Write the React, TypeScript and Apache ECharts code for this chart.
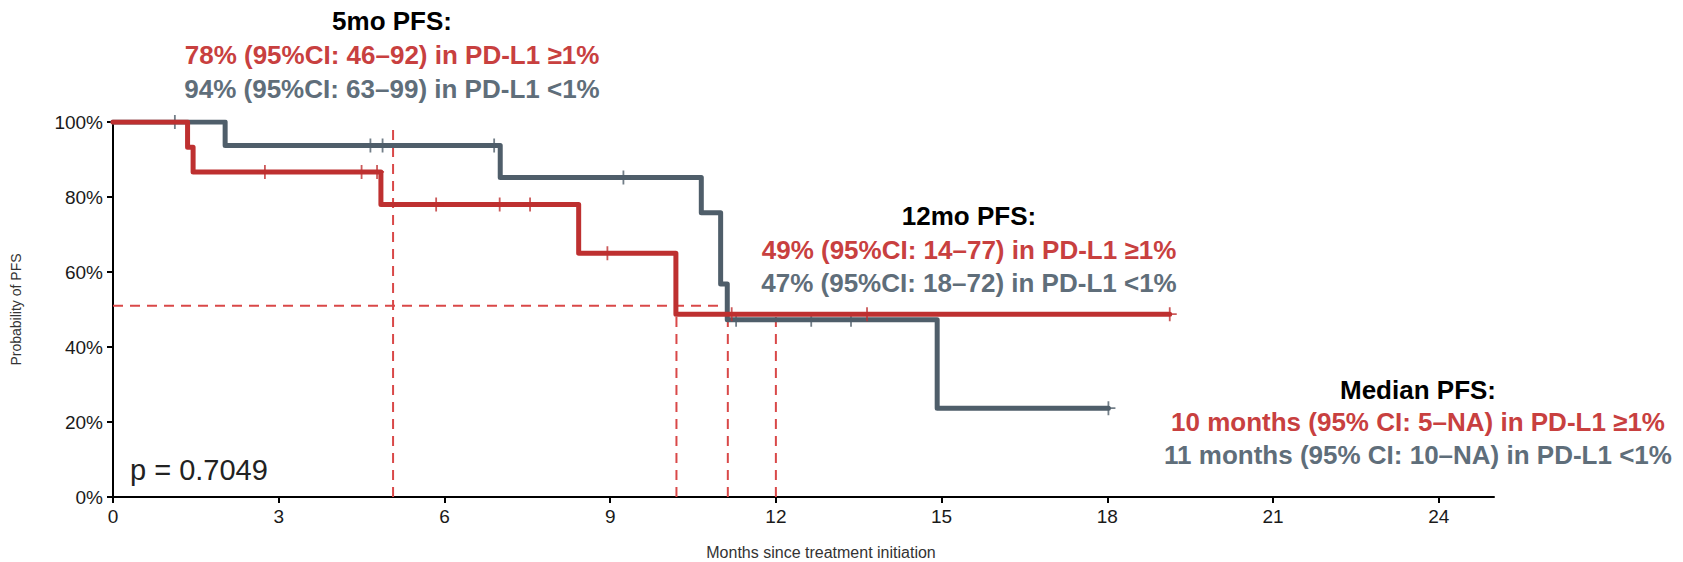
import React, { useEffect, useRef } from "react";
import * as echarts from "echarts";

// ---- data (months, survival %) ----
const xTicks = [0, 3, 6, 9, 12, 15, 18, 21, 24];
const yTicks = [0, 20, 40, 60, 80, 100];

const redTimes = [0, 1.35, 1.45, 4.85, 8.43, 10.19, 19.13];
const redSurv = [100, 93.3, 86.7, 78.0, 65.0, 48.75, 48.75];
const redCensorTimes = [2.75, 4.5, 4.78, 5.85, 7.0, 7.55, 8.95, 11.2, 13.65, 19.13];
const redCensorSurv = [86.7, 86.7, 86.7, 78, 78, 78, 65, 48.75, 48.75, 48.75];

const greyTimes = [0, 2.03, 7.01, 10.65, 11.0, 11.12, 14.92, 18.02];
const greySurv = [100, 93.75, 85.2, 75.8, 56.8, 47.3, 23.7, 23.7];
const greyCensorTimes = [1.12, 4.66, 4.88, 6.9, 9.24, 11.28, 12.64, 13.36, 18.02];
const greyCensorSurv = [100, 93.75, 93.75, 93.75, 85.2, 47.3, 47.3, 47.3, 23.7];

// reference (dashed) segments: [x1, y1, x2, y2]
const medianLevel = 51;
const refSegments = [
  [0, medianLevel, 11.13, medianLevel],
  [5.07, 0, 5.07, 98.5],
  [10.2, 0, 10.2, medianLevel],
  [11.13, 0, 11.13, medianLevel],
  [12.0, 0, 12.0, 48],
];

const pValueText = "p = 0.7049";
const block5mo = ["5mo PFS:", "78% (95%CI: 46–92) in PD-L1 ≥1%", "94% (95%CI: 63–99) in PD-L1 <1%"];
const block12mo = ["12mo PFS:", "49% (95%CI: 14–77) in PD-L1 ≥1%", "47% (95%CI: 18–72) in PD-L1 <1%"];
const blockMedian = [
  "Median PFS:",
  "10 months (95% CI: 5–NA) in PD-L1 ≥1%",
  "11 months (95% CI: 10–NA) in PD-L1 <1%",
];

const xAxisTitle = "Months since treatment initiation";
const yAxisTitle = "Probability of PFS";

// ---- styles ----
const FONT = '"Liberation Sans", Arial, Helvetica, sans-serif';
const RED = "#BE3030";
const GREY = "#4F5E6A";
const RED_TXT = "#C8403F";
const GREY_TXT = "#5F6E7A";
const DASH = "#D94848";
const PLUS = "path://M6.1,0H7.9V6.1H14V7.9H7.9V14H6.1V7.9H0V6.1H6.1Z";

function zip(a: number[], b: number[]) {
  return a.map((v, i) => [v, b[i]]);
}

function textBlock(lines: string[], cx: number, ys: number[]) {
  const colors = ["#000000", RED_TXT, GREY_TXT];
  return lines.map((t, i) => ({
    type: "text",
    x: cx,
    y: ys[i],
    style: {
      text: t,
      fill: colors[i],
      font: `bold 26px ${FONT}`,
      align: "center",
      verticalAlign: "middle",
    },
  }));
}

export default function App() {
  const ref = useRef<HTMLDivElement>(null);
  useEffect(() => {
    if (!ref.current) return;
    const chart = echarts.init(ref.current, null, { renderer: "svg" });

    const dashedSeries = refSegments.map((s) => ({
      type: "line",
      data: [
        [s[0], s[1]],
        [s[2], s[3]],
      ],
      showSymbol: false,
      silent: true,
      z: 1,
      lineStyle: { color: DASH, width: 2, type: [10, 7] },
    }));

    chart.setOption({
      animation: false,
      backgroundColor: "#ffffff",
      textStyle: { fontFamily: FONT },
      grid: {
        left: 113,
        top: 122,
        width: 1381,
        height: 375,
        containLabel: false,
        outerBoundsMode: "none",
      },
      xAxis: {
        type: "value",
        min: 0,
        max: 25,
        interval: 3,
        name: xAxisTitle,
        nameLocation: "middle",
        nameGap: 47,
        nameTextStyle: { fontSize: 16, color: "#333333", padding: [0, 0, 0, 35] },
        axisLine: { show: true, lineStyle: { color: "#000000", width: 2 } },
        axisTick: { show: true, length: 6, lineStyle: { color: "#000000", width: 2 }, customValues: xTicks },
        axisLabel: { fontSize: 19, color: "#1a1a1a", margin: 10, customValues: xTicks },
        splitLine: { show: false },
      },
      yAxis: {
        type: "value",
        min: 0,
        max: 100,
        interval: 20,
        name: yAxisTitle,
        nameLocation: "middle",
        nameGap: 90,
        nameTextStyle: { fontSize: 14, color: "#333333" },
        axisLine: { show: true, lineStyle: { color: "#000000", width: 2 } },
        axisTick: { show: true, length: 6, lineStyle: { color: "#000000", width: 2 }, customValues: yTicks },
        axisLabel: { fontSize: 19, color: "#1a1a1a", margin: 10, formatter: "{value}%", customValues: yTicks },
        splitLine: { show: false },
      },
      series: [
        ...dashedSeries,
        {
          name: "PD-L1 <1%",
          type: "line",
          step: "end",
          data: zip(greyTimes, greySurv),
          showSymbol: false,
          z: 2,
          lineStyle: { color: GREY, width: 5, cap: "round", join: "round" },
        },
        {
          name: "PD-L1 <1% censored",
          type: "scatter",
          data: zip(greyCensorTimes, greyCensorSurv),
          symbol: PLUS,
          symbolSize: 14,
          z: 3,
          itemStyle: { color: GREY },
        },
        {
          name: "PD-L1 ≥1%",
          type: "line",
          step: "end",
          data: zip(redTimes, redSurv),
          showSymbol: false,
          z: 4,
          lineStyle: { color: RED, width: 5, cap: "round", join: "round" },
        },
        {
          name: "PD-L1 ≥1% censored",
          type: "scatter",
          data: zip(redCensorTimes, redCensorSurv),
          symbol: PLUS,
          symbolSize: 14,
          z: 5,
          itemStyle: { color: RED },
        },
      ],
      graphic: [
        ...textBlock(block5mo, 392, [21, 55, 89]),
        ...textBlock(block12mo, 969, [216, 250, 283]),
        ...textBlock(blockMedian, 1418, [390, 422, 455]),
        {
          type: "text",
          x: 130,
          y: 470,
          style: {
            text: pValueText,
            fill: "#222222",
            font: `29px ${FONT}`,
            align: "left",
            verticalAlign: "middle",
          },
        },
      ],
    });
    return () => chart.dispose();
  }, []);
  return (
    <div
      ref={ref}
      style={{ position: "fixed", left: 0, top: 0, width: 1683, height: 562, background: "#fff" }}
    />
  );
}
